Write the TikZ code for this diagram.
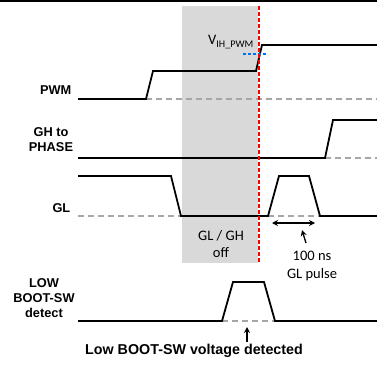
\documentclass[tikz,border=0pt]{standalone}
\usepackage{fontspec}
\setmainfont{Carlito}
\setsansfont{Liberation Sans}
\usepackage{tikz}
\usetikzlibrary{arrows.meta}
\definecolor{BoxGray}{HTML}{D9D9D9}
\definecolor{BaseGray}{HTML}{A6A6A6}
\definecolor{MarkRed}{HTML}{FF0000}
\definecolor{LevelBlue}{HTML}{0070F0}

\tikzset{
  signal/.style={line width=1.8pt, black, line join=miter},
  baseline/.style={line width=1.8pt, BaseGray, dash pattern=on 6pt off 4pt},
  sig label/.style={font=\sffamily\bfseries\fontsize{12.8}{15}\selectfont, align=center, inner sep=0pt},
  note/.style={font=\fontsize{14.5}{18}\selectfont, align=center, inner sep=0pt}
}

\begin{document}
\begin{tikzpicture}[x=1pt, y=-1pt]
  \useasboundingbox (0,0) rectangle (377,369);

  % Top border
  \draw[line width=2pt] (0,1.5) -- (377,1.5);

  % GL / GH off window
  \fill[BoxGray] (182,6) rectangle (258,263);
  \node[note] (offtxt) at (221,244) {GL / GH\\[-1pt]off};

  % Grey zero levels
  \draw[baseline] (146,99) -- (377,99);
  \draw[baseline] (325,158) -- (377,158);
  \draw[baseline] (78,216) -- (181,216);
  \draw[baseline] (268,216) -- (320,216);
  \draw[baseline] (222,321) -- (275,321);

  % PWM
  \node[sig label, anchor=east] (pwm) at (71.5,90) {PWM};
  \draw[signal] (78,99) -- (146,99) -- (153,71) -- (256,71) -- (262,45) -- (377,45);
  \draw[LevelBlue, line width=1.8pt, dash pattern=on 3pt off 2pt] (243,54) -- (267,54);
  \node[note, anchor=base east] (vih) at (254,45) {V\textsubscript{IH\_PWM}};

  % GH to PHASE
  \node[sig label] (gh) at (51,140) {GH to\\PHASE};
  \draw[signal] (78,158) -- (325,158) -- (333,120) -- (377,120);

  % GL
  \node[sig label, anchor=east] (gl) at (70.5,208) {GL};
  \draw[signal] (78,176) -- (171,176) -- (181,216) -- (268,216) -- (279,176)
    -- (309,176) -- (320,216) -- (377,216);

  % 100 ns pulse width
  \coordinate (pl) at (272,223);
  \coordinate (pr) at (315,223);
  \draw[{Stealth[length=6pt,width=6pt]}-{Stealth[length=6pt,width=6pt]}, line width=1.3pt] (pl) -- (pr);
  \coordinate (ptail) at (306,243);
  \coordinate (phead) at (302,230);
  \draw[-{Stealth[length=6pt,width=6pt]}, line width=1.3pt] (ptail) -- (phead);
  \node[note] (pulsetxt) at (312,266) {100 ns\\GL pulse};

  % LOW BOOT-SW detect
  \node[sig label] (boot) at (44,298) {LOW\\BOOT-SW\\detect};
  \draw[signal] (78,321) -- (222,321) -- (233,282) -- (264,282) -- (275,321) -- (377,321);
  \coordinate (dtail) at (247,342);
  \coordinate (dhead) at (247,327);
  \draw[-{Stealth[length=6pt,width=6pt]}, line width=1.3pt] (dtail) -- (dhead);
  \node[sig label, font=\sffamily\bfseries\fontsize{14.3}{17}\selectfont] (lowtxt) at (194,351) {Low BOOT-SW voltage detected};

  % PWM threshold crossing
  \draw[MarkRed, line width=2pt, dash pattern=on 4pt off 2pt] (259,6) -- (259,263);
\end{tikzpicture}
\end{document}
